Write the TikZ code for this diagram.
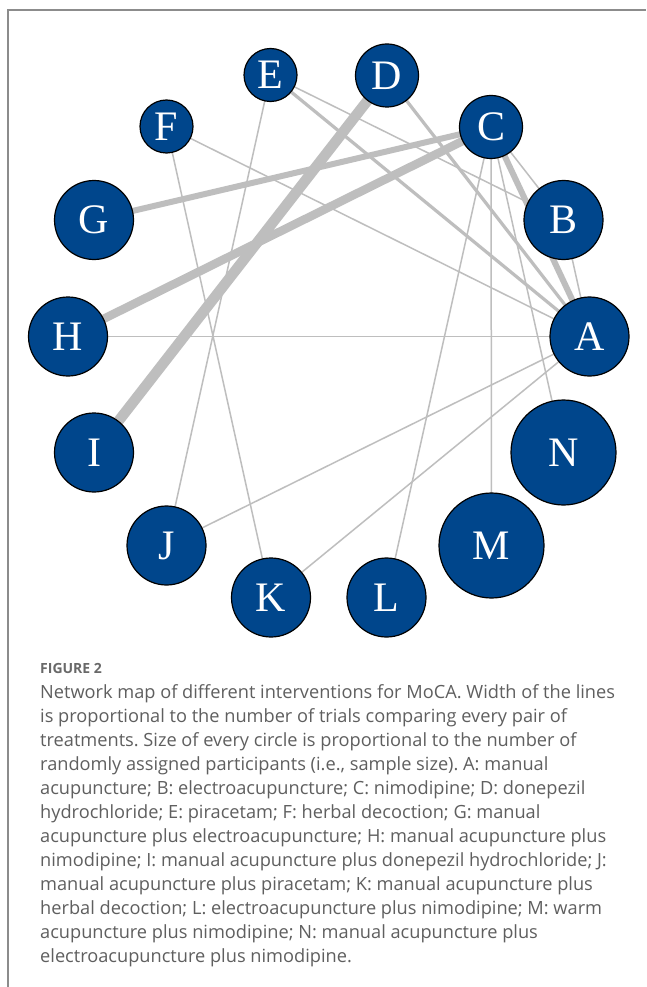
\documentclass[tikz,border=0pt]{standalone}
\usepackage{fontspec}
\setmainfont{Liberation Serif}
\newfontfamily\capfont{Open Sans}
\definecolor{nodeblue}{RGB}{0,70,140}
\definecolor{edgegray}{RGB}{190,190,190}
\definecolor{captext}{RGB}{95,95,95}
\definecolor{capheadtext}{RGB}{105,105,105}
\definecolor{framegray}{RGB}{140,140,140}
\pgfdeclarelayer{bg}
\pgfsetlayers{bg,main}
\tikzset{
  tnode/.style={circle, draw=black, line width=1.2pt, fill=nodeblue, text=white,
    inner sep=0pt, font=\fontsize{42}{42}\selectfont},
  sm/.style={tnode, minimum size=53pt},
  md/.style={tnode, minimum size=63pt},
  lg/.style={tnode, minimum size=79pt},
  xl/.style={tnode, minimum size=105pt},
  ethin/.style={draw=edgegray, line width=1.5pt},
  emed/.style={draw=edgegray, line width=3.2pt},
  ethick/.style={draw=edgegray, line width=6pt},
  ethicker/.style={draw=edgegray, line width=8.5pt},
  ethickest/.style={draw=edgegray, line width=10.5pt},
  capline/.style={anchor=base west, inner sep=0pt, text=captext,
    font=\capfont\frenchspacing\fontsize{18.2}{24}\selectfont},
  caphead/.style={anchor=base west, inner sep=0pt, text=capheadtext,
    font=\capfont\bfseries\fontsize{14}{16}\selectfont},
}
\begin{document}
\begin{tikzpicture}[x=1pt,y=-1pt]
\useasboundingbox (0,0) rectangle (646,987);
\begin{pgfonlayer}{bg}
\fill[white] (0,0) rectangle (646,987);
\end{pgfonlayer}
\draw[framegray, line width=1.5pt] (8,987) -- (8,10) -- (646,10);

\node[lg] (A) at (589.5,336.5) {A};
\node[lg] (B) at (563.5,220) {B};
\node[md] (C) at (491,127) {C};
\node[md] (D) at (387,75.5) {D};
\node[sm] (E) at (270.5,75) {E};
\node[sm] (F) at (166.5,126.5) {F};
\node[lg] (G) at (94,220) {G};
\node[lg] (H) at (68,336.5) {H};
\node[lg] (I) at (94,452.5) {I};
\node[lg] (J) at (166.5,545.5) {J};
\node[lg] (K) at (271,597.5) {K};
\node[lg] (L) at (386.5,597.5) {L};
\node[xl] (M) at (491.5,545.5) {M};
\node[xl] (N) at (563.5,452.5) {N};

\begin{pgfonlayer}{bg}
\draw[ethin] (A.center) -- (B.center);
\draw[ethin] (A.center) -- (F.center);
\draw[ethin] (A.center) -- (H.center);
\draw[ethin] (A.center) -- (J.center);
\draw[ethin] (A.center) -- (K.center);
\draw[ethin] (C.center) -- (B.center);
\draw[ethin] (C.center) -- (L.center);
\draw[ethin] (C.center) -- (M.center);
\draw[ethin] (C.center) -- (N.center);
\draw[ethin] (E.center) -- (B.center);
\draw[ethin] (E.center) -- (J.center);
\draw[ethin] (F.center) -- (K.center);
\draw[emed] (A.center) -- (D.center);
\draw[emed] (A.center) -- (E.center);
\draw[ethick] (A.center) -- (C.center);
\draw[ethick] (C.center) -- (G.center);
\draw[ethicker] (C.center) -- (H.center);
\draw[ethickest] (D.center) -- (I.center);
\end{pgfonlayer}

\node[caphead] (cap0) at (40,673) {FIGURE 2};
\node[capline] (cap1) at (40,698) {Network map of different interventions for MoCA. Width of the lines};
\node[capline] (cap2) at (40,722) {is proportional to the number of trials comparing every pair of};
\node[capline] (cap3) at (40,746) {treatments. Size of every circle is proportional to the number of};
\node[capline] (cap4) at (40,770) {randomly assigned participants (i.e., sample size). A: manual};
\node[capline] (cap5) at (40,794) {acupuncture; B: electroacupuncture; C: nimodipine; D: donepezil};
\node[capline] (cap6) at (40,818) {hydrochloride; E: piracetam; F: herbal decoction; G: manual};
\node[capline] (cap7) at (40,842) {acupuncture plus electroacupuncture; H: manual acupuncture plus};
\node[capline] (cap8) at (40,866) {nimodipine; I: manual acupuncture plus donepezil hydrochloride; J:};
\node[capline] (cap9) at (40,890) {manual acupuncture plus piracetam; K: manual acupuncture plus};
\node[capline] (cap10) at (40,914) {herbal decoction; L: electroacupuncture plus nimodipine; M: warm};
\node[capline] (cap11) at (40,938) {acupuncture plus nimodipine; N: manual acupuncture plus};
\node[capline] (cap12) at (40,962) {electroacupuncture plus nimodipine.};
\end{tikzpicture}
\end{document}
